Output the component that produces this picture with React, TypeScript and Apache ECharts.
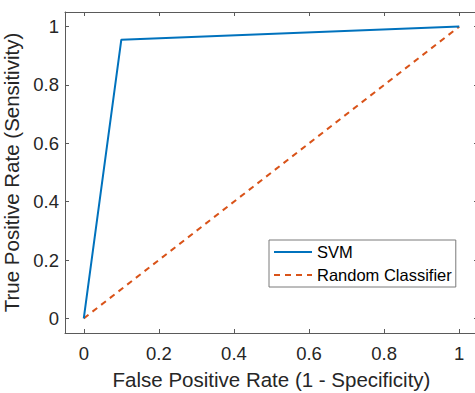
import React, { useEffect, useRef } from "react";
import * as echarts from "echarts";

const tickValues = [0, 0.2, 0.4, 0.6, 0.8, 1];
const svmPoints: [number, number][] = [
  [0, 0],
  [0.1, 0.955],
  [1, 1],
];
const randomPoints: [number, number][] = [
  [0, 0],
  [1, 1],
];
const seriesNames = ["SVM", "Random Classifier"];
const xTitle = "False Positive Rate (1 - Specificity)";
const yTitle = "True Positive Rate (Sensitivity)";

const FONT = "'Liberation Sans', Arial, Helvetica, sans-serif";
const AXIS_COLOR = "#5a5a5a";
const TEXT_COLOR = "#262626";

function fmt(v: number) {
  return String(Math.round(v * 10) / 10);
}

export default function App() {
  const ref = useRef<HTMLDivElement>(null);
  useEffect(() => {
    if (!ref.current) return;
    const chart = echarts.init(ref.current, undefined, { renderer: "svg" });
    const baseAxis = (show: boolean) => ({
      type: "value" as const,
      min: -0.05,
      max: 1.05,
      splitLine: { show: false },
      axisLine: { show: true, onZero: false, lineStyle: { color: AXIS_COLOR, width: 1 } },
      axisTick: {
        show: true,
        inside: true,
        length: 4,
        customValues: tickValues,
        lineStyle: { color: AXIS_COLOR, width: 1 },
      },
      axisLabel: {
        show,
        customValues: tickValues,
        formatter: (v: number) => fmt(v),
        color: TEXT_COLOR,
        fontFamily: FONT,
        fontSize: 18.5,
      },
    });
    chart.setOption({
      animation: false,
      backgroundColor: "#ffffff",
      grid: {
        left: 65,
        top: 12,
        right: -3,
        bottom: 60,
        containLabel: false,
        outerBoundsMode: "none",
      },
      xAxis: [
        {
          ...baseAxis(true),
          position: "bottom",
          name: xTitle,
          nameLocation: "middle",
          nameGap: 36,
          nameTextStyle: { color: TEXT_COLOR, fontFamily: FONT, fontSize: 20.5 },
          axisLabel: { ...baseAxis(true).axisLabel, margin: 11 },
        },
        { ...baseAxis(false), position: "top" },
      ],
      yAxis: [
        {
          ...baseAxis(true),
          position: "left",
          name: yTitle,
          nameLocation: "middle",
          nameGap: 36,
          nameRotate: 90,
          nameTextStyle: { color: TEXT_COLOR, fontFamily: FONT, fontSize: 20.5 },
          axisLabel: { ...baseAxis(true).axisLabel, margin: 6 },
        },
        { ...baseAxis(false), position: "right" },
      ],
      legend: {
        orient: "vertical",
        left: 269,
        top: 240,
        padding: [1, 4, 1, 4],
        itemGap: 1,
        itemWidth: 38,
        itemHeight: 14,
        backgroundColor: "#ffffff",
        borderColor: "#7a7a7a",
        borderWidth: 1,
        borderRadius: 0,
        itemStyle: { color: "rgba(0,0,0,0)", borderWidth: 0, opacity: 0 },
        textStyle: { color: "#000000", fontFamily: FONT, fontSize: 16.5, lineHeight: 22, height: 22 },
        data: seriesNames,
      },
      series: [
        {
          name: seriesNames[0],
          type: "line",
          data: svmPoints,
          symbol: "none",
          showSymbol: false,
          lineStyle: { color: "#0072BD", width: 2 },
          itemStyle: { color: "#0072BD" },
          xAxisIndex: 0,
          yAxisIndex: 0,
          z: 3,
        },
        {
          name: seriesNames[1],
          type: "line",
          data: randomPoints,
          symbol: "none",
          showSymbol: false,
          lineStyle: { color: "#D95319", width: 2, type: [6, 5] },
          itemStyle: { color: "#D95319" },
          xAxisIndex: 0,
          yAxisIndex: 0,
          z: 2,
        },
      ],
    });
    return () => chart.dispose();
  }, []);
  return (
    <div
      ref={ref}
      style={{ position: "fixed", left: 0, top: 0, width: 475, height: 393 }}
    />
  );
}
